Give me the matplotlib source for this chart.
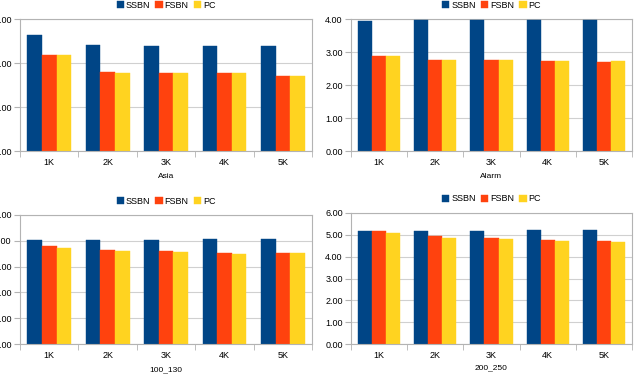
import matplotlib.pyplot as plt
import numpy as np

categories = ["1K", "2K", "3K", "4K", "5K"]
series = ["SSBN", "FSBN", "PC"]
colors = ["#004586", "#ff420e", "#ffd320"]

asia_ssbn = [2.63, 2.42, 2.38, 2.38, 2.38]
asia_fsbn = [2.18, 1.80, 1.78, 1.77, 1.71]
asia_pc = [2.18, 1.77, 1.78, 1.77, 1.71]

alarm_ssbn = [3.95, 3.97, 3.97, 3.97, 3.97]
alarm_fsbn = [2.88, 2.76, 2.75, 2.72, 2.70]
alarm_pc = [2.88, 2.76, 2.75, 2.72, 2.72]

n100_ssbn = [4.05, 4.02, 4.05, 4.08, 4.08]
n100_fsbn = [3.80, 3.65, 3.60, 3.52, 3.52]
n100_pc = [3.74, 3.60, 3.57, 3.49, 3.52]

n200_ssbn = [5.18, 5.19, 5.19, 5.21, 5.21]
n200_fsbn = [5.16, 4.93, 4.86, 4.76, 4.71]
n200_pc = [5.08, 4.87, 4.82, 4.72, 4.66]

panels = [
    ("Asia", [asia_ssbn, asia_fsbn, asia_pc], 3, [20, 151, 312, 19], 176),
    ("Alarm", [alarm_ssbn, alarm_fsbn, alarm_pc], 4, [351, 151, 632, 19], 176),
    ("100_130", [n100_ssbn, n100_fsbn, n100_pc], 5, [20, 344, 312, 215], 370),
    ("200_250", [n200_ssbn, n200_fsbn, n200_pc], 6, [351, 344, 632, 213], 368),
]

W, H = 640, 375
fig = plt.figure(figsize=(6.4, 3.75), dpi=100)
plt.rcParams["font.family"] = "Liberation Sans"

for title, data, ymax, (x0, y0, x1, y1), ylab in panels:
    ax = fig.add_axes([x0 / W, 1 - y0 / H, (x1 - x0) / W, (y0 - y1) / H])
    x = np.arange(len(categories))
    w = 0.25
    for i, (vals, c, name) in enumerate(zip(data, colors, series)):
        ax.bar(x + (i - 1) * w, vals, w, color=c, label=name, zorder=3,
               edgecolor=c, linewidth=0.3)
    ax.set_xlim(-0.5, len(categories) - 0.5)
    ax.set_ylim(0, ymax)
    ax.set_yticks(np.arange(0, ymax + 0.5, 1))
    ax.set_yticklabels(["{:.2f}".format(v) for v in np.arange(0, ymax + 0.5, 1)])
    ax.set_xticks(x)
    ax.set_xticklabels(categories)
    ax.set_xticks(np.arange(-0.5, len(categories), 1), minor=True)
    ax.tick_params(axis="x", which="major", length=0, labelsize=6.5, pad=5)
    ax.tick_params(axis="x", which="minor", length=4, color="#b3b3b3")
    ax.tick_params(axis="y", length=4, color="#b3b3b3", labelsize=6.5, pad=2)
    ax.grid(axis="y", color="#d0d0d0", linewidth=0.8, zorder=0)
    for s in ax.spines.values():
        s.set_color("#b3b3b3")
        s.set_linewidth(0.8)
    ax.spines["bottom"].set_zorder(4)
    cx = ((x0 + x1) / 2) / W
    fig.text(cx, 1 - ylab / H, title, ha="center", va="center", fontsize=6)
    leg = fig.legend(*ax.get_legend_handles_labels(), loc="center",
                     bbox_to_anchor=(cx, 1 - (y1 - 14) / H), ncol=3,
                     frameon=False, fontsize=6.5, handlelength=0.8,
                     handleheight=0.8, handletextpad=0.2, columnspacing=0.6)

fig.savefig("out.png", dpi=100)
